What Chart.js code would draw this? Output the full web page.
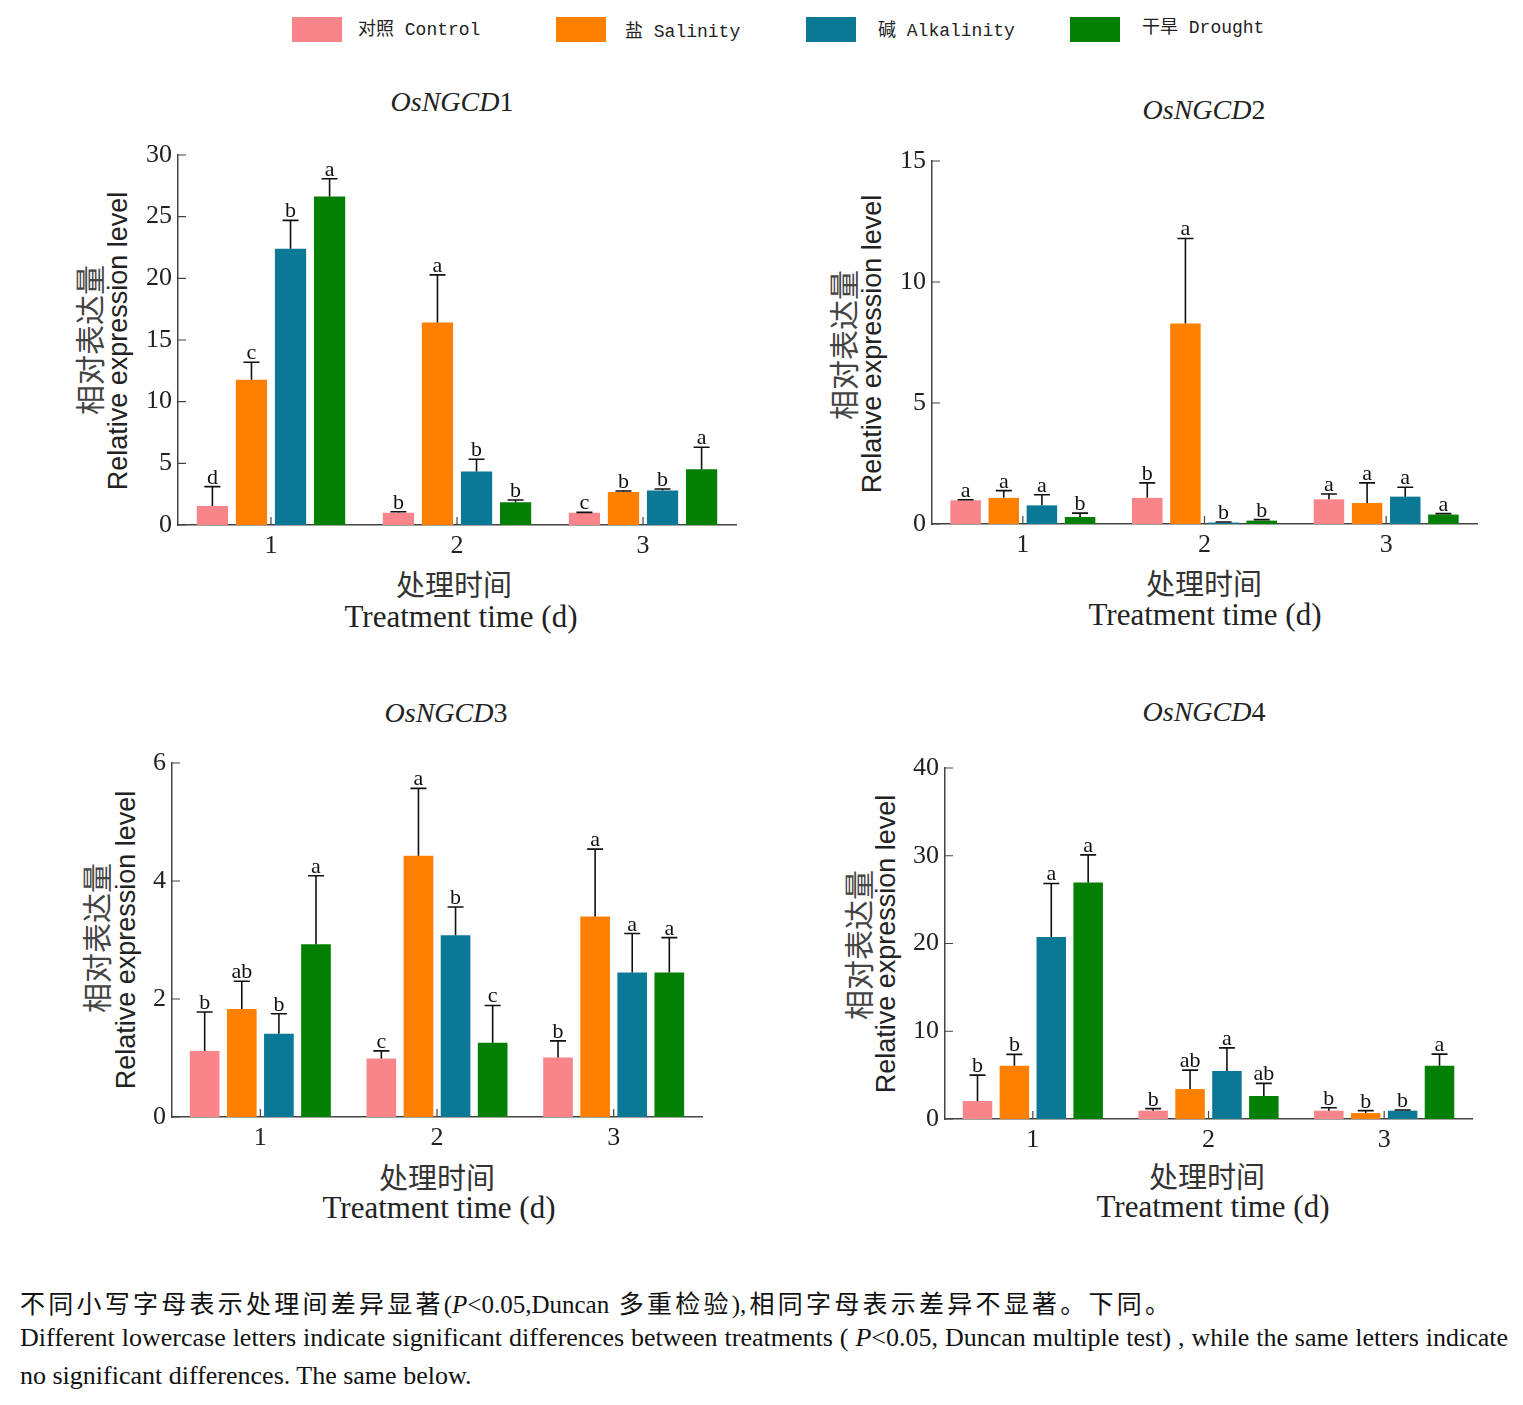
<!DOCTYPE html>
<html>
<head>
<meta charset="utf-8">
<script src="https://cdn.jsdelivr.net/npm/chart.js@4.4.1/dist/chart.umd.min.js"></script>
<style>
  body { margin: 0; background: #fff; width: 1523px; height: 1405px; position: relative; overflow: hidden; }
  canvas { position: absolute; }
  .t { position: absolute; white-space: nowrap; transform: translate(-50%, -50%); color: #222; }
  .ttl { font: 28px "Liberation Serif", serif; }
  .ycn { font: 30px "Noto Sans CJK SC", sans-serif; color: #444; transform: translate(-50%, -50%) rotate(-90deg); }
  .yen { font: 27px "Liberation Sans", sans-serif; transform: translate(-50%, -50%) rotate(-90deg); }
  .xcn { font: 29px "Noto Sans CJK SC", sans-serif; color: #333; }
  .xen { font: 31px "Liberation Serif", serif; }
  .leg { position: absolute; top: 17px; width: 50px; height: 25px; }
  .legt { position: absolute; font: 18px "Liberation Mono", "Noto Sans CJK SC", monospace; color: #222; top: 14px; }
  .cap { position: absolute; left: 20px; font: 26px "Liberation Serif", "Noto Sans CJK SC", serif; color: #111; white-space: nowrap; }
</style>
</head>
<body>

<div class="leg" style="left:292px;background:#F8858A"></div><div class="legt" style="left:358px">对照 Control</div>
<div class="leg" style="left:556px;background:#FF8000"></div><div class="legt" style="left:625px;top:16px">盐 Salinity</div>
<div class="leg" style="left:806px;background:#0B7896"></div><div class="legt" style="left:878px;top:15px">碱 Alkalinity</div>
<div class="leg" style="left:1070px;background:#038004"></div><div class="legt" style="left:1142px;top:12px">干旱 Drought</div>

<div class="t ttl" style="left:452px;top:102px"><i>OsNGCD</i>1</div>
<div class="t ttl" style="left:1204px;top:110px"><i>OsNGCD</i>2</div>
<div class="t ttl" style="left:446px;top:713px"><i>OsNGCD</i>3</div>
<div class="t ttl" style="left:1204px;top:712px"><i>OsNGCD</i>4</div>

<div class="t ycn" style="left:88px;top:340px">相对表达量</div>
<div class="t yen" style="left:118px;top:341px">Relative expression level</div>
<div class="t ycn" style="left:842px;top:345px">相对表达量</div>
<div class="t yen" style="left:872px;top:344px">Relative expression level</div>
<div class="t ycn" style="left:95px;top:938px">相对表达量</div>
<div class="t yen" style="left:126px;top:940px">Relative expression level</div>
<div class="t ycn" style="left:857px;top:945px">相对表达量</div>
<div class="t yen" style="left:886px;top:944px">Relative expression level</div>

<div class="t xcn" style="left:454px;top:583px">处理时间</div>
<div class="t xen" style="left:461px;top:617px">Treatment time (d)</div>
<div class="t xcn" style="left:1204px;top:582px">处理时间</div>
<div class="t xen" style="left:1205px;top:615px">Treatment time (d)</div>
<div class="t xcn" style="left:437px;top:1176px">处理时间</div>
<div class="t xen" style="left:439px;top:1208px">Treatment time (d)</div>
<div class="t xcn" style="left:1207px;top:1175px">处理时间</div>
<div class="t xen" style="left:1213px;top:1207px">Treatment time (d)</div>

<canvas id="c1"></canvas>
<canvas id="c2"></canvas>
<canvas id="c3"></canvas>
<canvas id="c4"></canvas>

<div class="cap" style="top:1284px;width:1150px;font-size:25px;text-align:justify;text-align-last:justify">不同小写字母表示处理间差异显著(<i>P</i>&lt;0.05,Duncan 多重检验),相同字母表示差异不显著。下同。</div>
<div class="cap" style="top:1323px;width:1488px;text-align:justify;text-align-last:justify">Different lowercase letters indicate significant differences between treatments ( <i>P</i>&lt;0.05, Duncan multiple test) , while the same letters indicate</div>
<div class="cap" style="top:1361px">no significant differences. The same below.</div>

<script>
var days = ['1', '2', '3'];
var treatments = ['对照 Control', '盐 Salinity', '碱 Alkalinity', '干旱 Drought'];
var colors = ['#F8858A', '#FF8000', '#0B7896', '#038004'];

// means, one row per treatment (Control, Salinity, Alkalinity, Drought)
var ngcd1Means = [[1.54, 1.00, 1.00], [11.78, 16.41, 2.68], [22.39, 4.33, 2.79], [26.64, 1.84, 4.52]];
var ngcd1Errors = [[1.57, 0.08, 0.02], [1.41, 3.87, 0.08], [2.31, 1.00, 0.13], [1.44, 0.19, 1.79]];
var ngcd1Letters = [['d', 'b', 'c'], ['c', 'a', 'b'], ['b', 'b', 'b'], ['a', 'b', 'a']];

var ngcd2Means = [[0.98, 1.08, 1.02], [1.08, 8.28, 0.87], [0.77, 0.06, 1.13], [0.29, 0.14, 0.39]];
var ngcd2Errors = [[0.02, 0.62, 0.22], [0.30, 3.52, 0.83], [0.44, 0.02, 0.39], [0.16, 0.04, 0.04]];
var ngcd2Letters = [['a', 'b', 'a'], ['a', 'a', 'a'], ['a', 'b', 'a'], ['b', 'b', 'a']];

var ngcd3Means = [[1.12, 0.99, 1.01], [1.83, 4.43, 3.40], [1.41, 3.08, 2.45], [2.93, 1.26, 2.45]];
var ngcd3Errors = [[0.66, 0.13, 0.28], [0.47, 1.14, 1.14], [0.34, 0.48, 0.66], [1.16, 0.63, 0.59]];
var ngcd3Letters = [['b', 'c', 'b'], ['ab', 'a', 'a'], ['b', 'b', 'a'], ['a', 'c', 'a']];

var ngcd4Means = [[2.05, 0.95, 0.95], [6.07, 3.41, 0.68], [20.74, 5.46, 0.95], [26.96, 2.62, 6.07]];
var ngcd4Errors = [[2.95, 0.23, 0.34], [1.29, 2.16, 0.27], [6.10, 2.65, 0.07], [3.14, 1.44, 1.32]];
var ngcd4Letters = [['b', 'b', 'b'], ['b', 'ab', 'b'], ['a', 'a', 'b'], ['a', 'ab', 'a']];

var yMax = [30, 15, 6, 40];
var yStep = [5, 5, 2, 10];

// error bars, significance letters and the small inward ticks
var extras = {
    id: 'extras',
    afterDatasetsDraw: function (chart) {
        var ctx = chart.ctx, y = chart.scales.y;
        var errs = chart.options.plugins.extras.errors, lets = chart.options.plugins.extras.letters;
        ctx.save();
        ctx.strokeStyle = '#111';
        ctx.lineWidth = 1.6;
        ctx.fillStyle = '#111';
        ctx.font = '22px "Liberation Serif", serif';
        ctx.textAlign = 'center';
        ctx.textBaseline = 'alphabetic';
        chart.data.datasets.forEach(function (ds, i) {
            chart.getDatasetMeta(i).data.forEach(function (bar, j) {
                var top = y.getPixelForValue(ds.data[j] + errs[i][j]);
                ctx.beginPath();
                ctx.moveTo(bar.x, bar.y);
                ctx.lineTo(bar.x, top);
                ctx.moveTo(bar.x - 8, top);
                ctx.lineTo(bar.x + 8, top);
                ctx.stroke();
                ctx.fillText(lets[i][j], bar.x, top - 3);
            });
        });
        ctx.restore();
    },
    afterDraw: function (chart) {
        var ctx = chart.ctx, a = chart.chartArea;
        ctx.save();
        ctx.strokeStyle = '#444';
        ctx.lineWidth = 1.2;
        ctx.beginPath();
        chart.scales.y.ticks.forEach(function (t) {
            var py = chart.scales.y.getPixelForValue(t.value);
            ctx.moveTo(a.left, py);
            ctx.lineTo(a.left + 8, py);
        });
        days.forEach(function (d, k) {
            var px = chart.scales.x.getPixelForValue(k);
            ctx.moveTo(px, a.bottom);
            ctx.lineTo(px, a.bottom - 8);
        });
        ctx.stroke();
        ctx.restore();
    }
};

function panel(id, rect, means, errors, letters, max, step) {
    var cv = document.getElementById(id);
    var w = rect.r - rect.l + 70, h = rect.b - rect.t + 70;
    cv.width = w; cv.height = h;
    cv.style.left = (rect.l - 60) + 'px';
    cv.style.top = (rect.t - 30) + 'px';
    cv.style.width = w + 'px'; cv.style.height = h + 'px';
    new Chart(cv.getContext('2d'), {
        type: 'bar',
        data: {
            labels: days,
            datasets: treatments.map(function (name, i) {
                return {
                    label: name,
                    data: means[i],
                    backgroundColor: colors[i],
                    borderWidth: 0,
                    categoryPercentage: 0.84,
                    barPercentage: 0.8
                };
            })
        },
        options: {
            responsive: false,
            animation: false,
            devicePixelRatio: 1,
            layout: { padding: { top: 30, right: 10, bottom: 0, left: 0 } },
            plugins: {
                legend: { display: false },
                tooltip: { enabled: false },
                extras: { errors: errors, letters: letters }
            },
            scales: {
                x: {
                    grid: { display: false, drawTicks: false },
                    border: { display: true, color: '#444', width: 1.5 },
                    ticks: { padding: 6, color: '#222', font: { family: '"Liberation Serif", serif', size: 26 } },
                    afterFit: function (s) { s.height = 40; }
                },
                y: {
                    min: 0,
                    max: max,
                    grid: { display: false, drawTicks: false },
                    border: { display: true, color: '#444', width: 1.5 },
                    ticks: { stepSize: step, padding: 6, color: '#222', font: { family: '"Liberation Serif", serif', size: 26 } },
                    afterFit: function (s) { s.width = 60; }
                }
            }
        },
        plugins: [extras]
    });
}

panel('c1', { l: 178, r: 736, t: 155, b: 525 }, ngcd1Means, ngcd1Errors, ngcd1Letters, yMax[0], yStep[0]);
panel('c2', { l: 932, r: 1477, t: 161, b: 524 }, ngcd2Means, ngcd2Errors, ngcd2Letters, yMax[1], yStep[1]);
panel('c3', { l: 172, r: 702, t: 763, b: 1117 }, ngcd3Means, ngcd3Errors, ngcd3Letters, yMax[2], yStep[2]);
panel('c4', { l: 945, r: 1472, t: 768, b: 1119 }, ngcd4Means, ngcd4Errors, ngcd4Letters, yMax[3], yStep[3]);
</script>
</body>
</html>
